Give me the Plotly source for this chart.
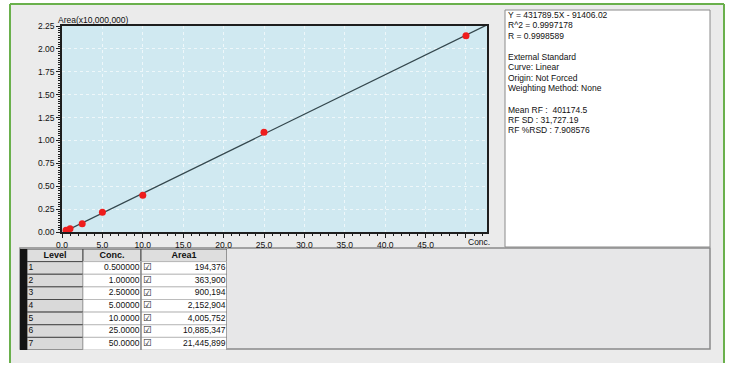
import plotly.graph_objects as go

# ---- calibration data ----
levels = ["1", "2", "3", "4", "5", "6", "7"]
conc = [0.5, 1.0, 2.5, 5.0, 10.0, 25.0, 50.0]
conc_text = ["0.500000", "1.00000", "2.50000", "5.00000", "10.0000", "25.0000", "50.0000"]
area = [194376, 363900, 900194, 2152904, 4005752, 10885347, 21445899]

# fitted curve Y = slope * X + intercept
slope = 431789.5
intercept = -91406.02
area_scale = 1e7  # y axis is Area(x10,000,000)

x_tickvals = [0, 5, 10, 15, 20, 25, 30, 35, 40, 45, 50]
x_ticktext = ["0.0", "5.0", "10.0", "15.0", "20.0", "25.0", "30.0", "35.0", "40.0", "45.0", ""]
y_tickvals = [0, 0.25, 0.5, 0.75, 1.0, 1.25, 1.5, 1.75, 2.0, 2.25]
x_range = [0, 52.6]
y_range = [0, 2.25]

table_headers = ["Level", "Conc.", "Area1"]

stats_lines = [
    "Y = 431789.5X - 91406.02",
    "R^2 = 0.9997178",
    "R = 0.9998589",
    "",
    "External Standard",
    "Curve: Linear",
    "Origin: Not Forced",
    "Weighting Method: None",
    "",
    "Mean RF :  401174.5",
    "RF SD : 31,727.19",
    "RF %RSD : 7.908576",
]

W, H = 730, 365
FONT = "Liberation Sans, Arial, sans-serif"
TXT = "#111111"
GREEN = "#6ab04c"
FRAME_BOTTOM = 363


def fx(px):
    return px / W


def fy(py):
    return 1 - py / H


y_pts = [a / area_scale for a in area]
fit_x = [x_range[0], x_range[1]]
fit_y = [(slope * x + intercept) / area_scale for x in fit_x]

fig = go.Figure()

fig.add_trace(go.Scatter(
    x=fit_x, y=fit_y, mode="lines",
    line=dict(color="#34474d", width=1.3),
    hoverinfo="skip", showlegend=False,
))
fig.add_trace(go.Scatter(
    x=conc, y=y_pts, mode="markers",
    marker=dict(color="#ee1d1d", size=7),
    showlegend=False,
))

# ---- level table, laid out on its own axes (x in pixels, y in rows) ----
col_edges = [0, 56, 114, 200]          # Level | Conc. | Area1
n_rows = len(levels)
row_idx = [i + 1.5 for i in range(n_rows)]  # row 0 is the header

shapes = [
    # window body
    dict(type="rect", xref="paper", yref="paper", x0=fx(10), x1=fx(724),
         y0=fy(FRAME_BOTTOM), y1=fy(4),
         fillcolor="#ebebeb", line=dict(width=0), layer="below"),
    # window frame: top, left, right edges (open at the bottom)
    dict(type="line", xref="paper", yref="paper", x0=fx(10), x1=fx(724), y0=fy(4), y1=fy(4),
         line=dict(color=GREEN, width=2), layer="below"),
    dict(type="line", xref="paper", yref="paper", x0=fx(10), x1=fx(10),
         y0=fy(FRAME_BOTTOM), y1=fy(4), line=dict(color=GREEN, width=2), layer="below"),
    dict(type="line", xref="paper", yref="paper", x0=fx(724), x1=fx(724),
         y0=fy(FRAME_BOTTOM), y1=fy(4), line=dict(color=GREEN, width=2), layer="below"),
    # plot area background
    dict(type="rect", xref="x domain", yref="y domain", x0=0, x1=1, y0=0, y1=1,
         fillcolor="#d0e9f1", line=dict(width=0), layer="below"),
    # statistics panel
    dict(type="rect", xref="paper", yref="paper", x0=fx(505), x1=fx(710), y0=fy(247), y1=fy(10),
         fillcolor="white", line=dict(color="#8a8a8a", width=1), layer="below"),
    # table panel
    dict(type="rect", xref="paper", yref="paper", x0=fx(20), x1=fx(710), y0=fy(349), y1=fy(248),
         fillcolor="#e7e7e8", line=dict(color="#8a8a8a", width=1.5), layer="below"),
    # row header bar
    dict(type="rect", xref="paper", yref="paper", x0=fx(20), x1=fx(27), y0=fy(350), y1=fy(249),
         fillcolor="#141414", line=dict(width=0), layer="below"),
]

# header cells
for c in range(len(table_headers)):
    shapes.append(dict(type="rect", xref="x2", yref="y2", layer="below",
                       x0=col_edges[c], x1=col_edges[c + 1], y0=0, y1=1,
                       fillcolor="#dedede", line=dict(color="#4a4a4a", width=1)))
# body cells
for r in range(n_rows):
    for c in range(len(table_headers)):
        level_col = c == 0
        shapes.append(dict(type="rect", xref="x2", yref="y2", layer="below",
                           x0=col_edges[c], x1=col_edges[c + 1], y0=r + 1, y1=r + 2,
                           fillcolor="#d9d9d9" if level_col else "white",
                           line=dict(color="#4a4a4a" if level_col else "#bcbcbc", width=1)))
# darker column dividers in the body
for c in (2, 3):
    shapes.append(dict(type="line", xref="x2", yref="y2", layer="below",
                       x0=col_edges[c], x1=col_edges[c], y0=1, y1=n_rows + 1,
                       line=dict(color="#6a6a6a", width=1)))

tfont = dict(family=FONT, size=8.5, color=TXT)
fig.add_trace(go.Scatter(
    x=[(col_edges[c] + col_edges[c + 1]) / 2 for c in range(len(table_headers))],
    y=[0.5] * len(table_headers),
    text=[f"<b>{h}</b>" for h in table_headers],
    mode="text", textposition="middle center", textfont=dict(family=FONT, size=9, color=TXT),
    xaxis="x2", yaxis="y2", hoverinfo="skip", showlegend=False, cliponaxis=False,
))
fig.add_trace(go.Scatter(
    x=[col_edges[0] + 1.5] * n_rows, y=row_idx, text=levels,
    mode="text", textposition="middle right", textfont=tfont,
    xaxis="x2", yaxis="y2", hoverinfo="skip", showlegend=False, cliponaxis=False,
))
fig.add_trace(go.Scatter(
    x=[col_edges[2] - 1.5] * n_rows, y=row_idx, text=conc_text,
    mode="text", textposition="middle left", textfont=tfont,
    xaxis="x2", yaxis="y2", hoverinfo="skip", showlegend=False, cliponaxis=False,
))
fig.add_trace(go.Scatter(
    x=[col_edges[2] + 2] * n_rows, y=row_idx, text=["\u2611"] * n_rows,
    mode="text", textposition="middle right",
    textfont=dict(family="DejaVu Sans", size=9.5, color="#222"),
    xaxis="x2", yaxis="y2", hoverinfo="skip", showlegend=False, cliponaxis=False,
))
fig.add_trace(go.Scatter(
    x=[col_edges[3] - 1.5] * n_rows, y=row_idx, text=[f"{a:,}" for a in area],
    mode="text", textposition="middle left", textfont=tfont,
    xaxis="x2", yaxis="y2", hoverinfo="skip", showlegend=False, cliponaxis=False,
))

annotations = [
    dict(text="Area(x10,000,000)", xref="paper", yref="paper", x=fx(56), y=fy(27),
         xanchor="left", yanchor="bottom", showarrow=False, font=tfont),
    dict(text="Conc.", xref="x", yref="y domain", x=50, y=0, xanchor="left", yanchor="top",
         yshift=-3, showarrow=False, font=tfont),
]
for i, line in enumerate(stats_lines):
    if line:
        annotations.append(dict(
            text=line, xref="paper", yref="paper", x=fx(506), y=fy(15 + 10.5 * i),
            xanchor="left", yanchor="middle", showarrow=False, font=tfont,
        ))

axis_common = dict(
    showline=True, linecolor="#1e1e1e", linewidth=1.5, mirror=True,
    ticks="outside", ticklen=4, tickcolor="#1e1e1e",
    showgrid=True, gridcolor="#eef7fa", griddash="dot", gridwidth=1,
    zeroline=False, tickfont=tfont, automargin=False,
)
hidden = dict(visible=False, showgrid=False, zeroline=False, fixedrange=True, automargin=False)

fig.update_layout(
    width=W, height=H,
    margin=dict(l=0, r=0, t=0, b=0, pad=0, autoexpand=False),
    paper_bgcolor="white",
    plot_bgcolor="rgba(0,0,0,0)",
    showlegend=False,
    shapes=shapes,
    annotations=annotations,
    xaxis=dict(
        domain=[fx(62), fx(487)], range=x_range,
        tickmode="array", tickvals=x_tickvals, ticktext=x_ticktext,
        minor=dict(dtick=1, ticks="outside", ticklen=2, tickcolor="#1e1e1e", showgrid=False),
        **axis_common,
    ),
    yaxis=dict(
        domain=[fy(232), fy(26)], range=y_range,
        tickmode="array", tickvals=y_tickvals, tickformat=".2f",
        minor=dict(dtick=0.025, ticks="outside", ticklen=2, tickcolor="#1e1e1e", showgrid=False),
        **axis_common,
    ),
    xaxis2=dict(domain=[fx(27), fx(227)], range=[0, col_edges[-1]], anchor="y2", **hidden),
    yaxis2=dict(domain=[fy(350), fy(249)], range=[n_rows + 1, 0], anchor="x2", **hidden),
)

fig.write_html("out.html")
